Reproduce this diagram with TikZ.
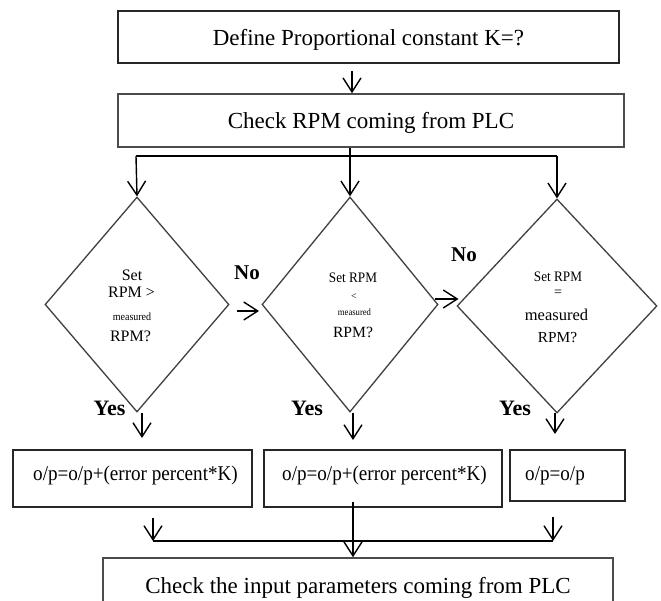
\documentclass[tikz,border=0pt]{standalone}
\usepackage{fontspec}
\setmainfont{Liberation Serif}
\newfontfamily\condfont[FakeStretch=0.91]{Liberation Serif}
\usetikzlibrary{arrows.meta,shapes.geometric}
\tikzset{
  bigbox/.style={draw=black!85, line width=1.6pt, inner sep=0pt, text depth=0pt, font=\fontsize{23}{27}\selectfont},
  opbox/.style={draw=black!85, line width=1.5pt, inner sep=0pt},
  optext/.style={anchor=base west, inner sep=0pt, font=\condfont\fontsize{21}{24}\selectfont},
  dia/.style={draw=black!75, line width=1.3pt, shape=diamond, inner sep=0pt},
  dtext/.style={anchor=base, inner sep=0pt},
  lab/.style={anchor=base, inner sep=0pt, font=\bfseries\fontsize{21}{24}\selectfont},
  arr/.style={draw=black, line width=1.4pt, -{Straight Barb[length=14pt,width=18pt,line width=1.4pt]}},
  ln/.style={draw=black, line width=1.4pt}
}
\begin{document}
\begin{tikzpicture}[x=1pt,y=-1pt]
\useasboundingbox (0,0) rectangle (661,601);
\begin{scope}
\clip (0,0) rectangle (661,601);
\fill[white] (0,0) rectangle (661,601);
% boxes
\node[bigbox, minimum width=501pt, minimum height=52pt] (t1) at (368.5,37) {Define Proportional constant K=?};
\node[bigbox, draw=black!70, minimum width=506pt, minimum height=53pt] (c2) at (371,120.5) {Check RPM coming from PLC};
\node[bigbox, draw=black!70, minimum width=510pt, minimum height=54pt] (b4) at (358,585) {Check the input parameters coming from PLC};
% diamonds
\node[dia, minimum width=184pt, minimum height=215pt] (dL) at (137,304.5) {};
\node[dia, minimum width=176pt, minimum height=215pt] (dM) at (350,304.5) {};
\node[dia, minimum width=200pt, minimum height=214pt] (dR) at (557,306) {};
% diamond texts
\node[dtext, font=\fontsize{16}{18}\selectfont] (lA) at (132,280.5) {Set};
\node[dtext, font=\fontsize{16}{18}\selectfont] (lB) at (131.5,298) {RPM >};
\node[dtext, font=\condfont\fontsize{11}{12}\selectfont] (lC) at (132,320.5) {measured};
\node[dtext, font=\fontsize{16}{18}\selectfont] (lD) at (130.5,342) {RPM?};
\node[dtext, font=\condfont\fontsize{14.5}{16}\selectfont] (mA) at (353,282.5) {Set RPM};
\node[dtext, font=\fontsize{10}{12}\selectfont] (mB) at (354,300) {<};
\node[dtext, font=\condfont\fontsize{9.5}{11}\selectfont] (mC) at (354.5,315.5) {measured};
\node[dtext, font=\fontsize{15.6}{18}\selectfont] (mD) at (353,337.5) {RPM?};
\node[dtext, font=\condfont\fontsize{14.5}{16}\selectfont] (rA) at (558,281.5) {Set\ RPM};
\node[dtext, font=\fontsize{14}{16}\selectfont] (rB) at (558,296.5) {=};
\node[dtext, font=\fontsize{16.5}{18}\selectfont] (rC) at (556.5,321) {measured};
\node[dtext, font=\fontsize{15.3}{18}\selectfont] (rD) at (557.5,343) {RPM?};
% labels
\node[lab] (no1) at (247,280) {No};
\node[lab] (no2) at (464,262) {No};
\node[lab, font=\bfseries\fontsize{22}{24}\selectfont] (y1) at (109.5,415) {Yes};
\node[lab, font=\bfseries\fontsize{22}{24}\selectfont] (y2) at (307,415) {Yes};
\node[lab, font=\bfseries\fontsize{22}{24}\selectfont] (y3) at (515,415) {Yes};
% output boxes
\node[opbox, minimum width=239pt, minimum height=57pt] (b1) at (132.5,478.5) {};
\node[opbox, minimum width=238pt, minimum height=57pt] (b2) at (383,478.5) {};
\node[opbox, minimum width=115pt, minimum height=51pt] (b3) at (567.5,475.5) {};
\node[optext] (o1) at (33,480) {o/p=o/p+(error percent*K)};
\node[optext] (o2) at (282,480) {o/p=o/p+(error percent*K)};
\node[optext] (o3) at (525,480) {o/p=o/p};
% coordinates for free ends
\coordinate (a0) at (352,71);
\coordinate (sp) at (352,156);
\coordinate (spL) at (136,156);
\coordinate (spR) at (557,156);
\coordinate (n1s) at (237,311);
\coordinate (n1e) at (259,311);
\coordinate (n2s) at (435,299);
\coordinate (n2e) at (458.5,299);
\coordinate (yLs) at (142,413);
\coordinate (yLe) at (142,438);
\coordinate (yMs) at (353,413);
\coordinate (yMe) at (353,440);
\coordinate (yRs) at (555,413);
\coordinate (yRe) at (555,434);
\coordinate (jL) at (153,518);
\coordinate (jLe) at (153,541);
\coordinate (jR) at (553,517);
\coordinate (jRe) at (553,541);
\coordinate (jM) at (353,502);
% connectors
\draw[arr] (a0) -- (a0 |- c2.north);
\draw[arr] (c2.south -| dM.north) -- (dM.north);
\draw[ln] (spL) -- (spR);
\draw[arr] (spL) -- (dL.north);
\draw[arr] (spR) -- (dR.north);
\draw[arr] (n1s) -- (n1e);
\draw[arr] (n2s) -- (n2e);
\draw[arr] (yLs) -- (yLe);
\draw[arr] (yMs) -- (yMe);
\draw[arr] (yRs) -- (yRe);
\draw[arr] (jL) -- (jLe);
\draw[arr] (jR) -- (jRe);
\draw[ln] (jLe) -- (jRe);
\draw[arr] (jM) -- (jM |- b4.north);
\end{scope}
\end{tikzpicture}
\end{document}
